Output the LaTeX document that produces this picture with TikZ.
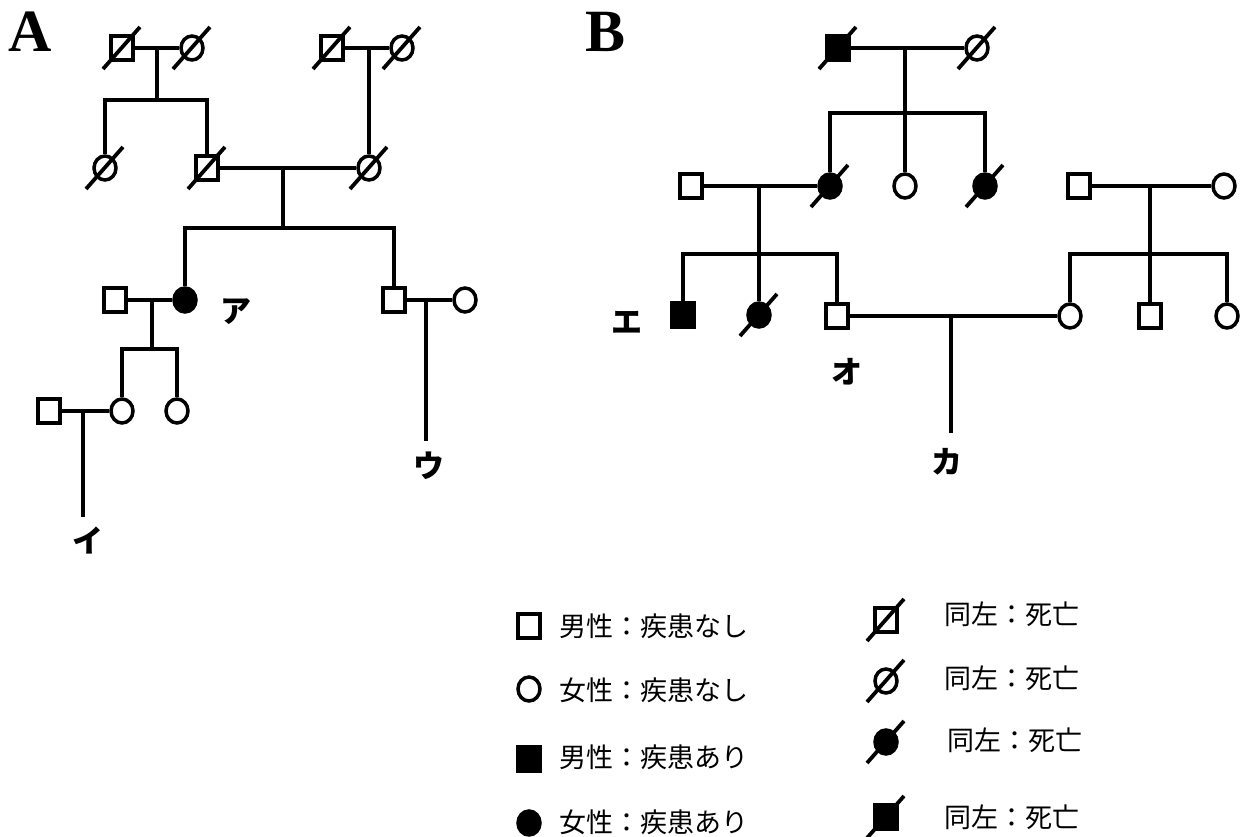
\documentclass[tikz,border=0pt]{standalone}
\usepackage{fontspec}
\setmainfont{Liberation Serif}
\newfontfamily\jp{Noto Sans CJK JP}
\usetikzlibrary{shapes.geometric}
\newcommand\deadmark[1]{\draw[slash] ([shift={(-19,21)}]#1.center) -- ([shift={(18,-21)}]#1.center);}
\begin{document}
\begin{tikzpicture}[x=1pt,y=-1pt,
  ln/.style={line width=3.6pt},
  male/.style={rectangle,draw,line width=3.5pt,minimum width=22pt,minimum height=24pt,inner sep=0pt,fill=white},
  fem/.style={ellipse,draw,line width=3.5pt,minimum width=22pt,minimum height=24pt,inner sep=0pt,fill=white},
  aff/.style={fill=black},
  slash/.style={line width=3.8pt},
  kana/.style={font={\jp\bfseries\fontsize{31}{31}\selectfont}, inner sep=0pt},
  leg/.style={font={\jp\fontsize{27}{27}\selectfont}, anchor=west, inner sep=0pt},
  panel/.style={font={\bfseries\fontsize{60}{60}\selectfont}, inner sep=0pt, anchor=base west}
]
\fill[white] (0,0) rectangle (1248,837);
\useasboundingbox (0,0) rectangle (1248,837);

% ---------------- Panel A ----------------
\node[panel] (tA) at (8,52) {A};
\node[male] (a1) at (122,48) {};
\node[fem]  (a2) at (192,48) {};
\node[male] (a5) at (332,48) {};
\node[fem]  (a6) at (402,48) {};
\node[fem]  (a3) at (105,168) {};
\node[male] (a4) at (207,168) {};
\node[fem]  (a8) at (369,168) {};
\node[male] (a9) at (115,300) {};
\node[fem,aff] (a10) at (185,300) {};
\node[male] (a11) at (394,300) {};
\node[fem]  (a12) at (465,300) {};
\node[male] (a15) at (49,411) {};
\node[fem]  (a13) at (122,411) {};
\node[fem]  (a14) at (177,411) {};

\coordinate (cA1) at (157,48);  \coordinate (sA1) at (157,100);
\coordinate (cA2) at (369,48);
\coordinate (cA3) at (283,168); \coordinate (sA2) at (283,228);
\coordinate (cA4) at (152,300); \coordinate (sA3) at (152,349);
\coordinate (cA5) at (83,411);  \coordinate (eA1) at (83,517);
\coordinate (cA6) at (426,300); \coordinate (eA2) at (426,441);

\draw[ln] (a1) -- (a2);
\draw[ln] (cA1) -- (sA1);
\draw[ln] (a3) |- (sA1) -| (a4);
\draw[ln] (a5) -- (a6);
\draw[ln] (cA2) -- (a8);
\draw[ln] (a4) -- (a8);
\draw[ln] (cA3) -- (sA2);
\draw[ln] (a10) |- (sA2) -| (a11);
\draw[ln] (a9) -- (a10);
\draw[ln] (cA4) -- (sA3);
\draw[ln] (a13) |- (sA3) -| (a14);
\draw[ln] (a15) -- (a13);
\draw[ln] (cA5) -- (eA1);
\draw[ln] (a11) -- (a12);
\draw[ln] (cA6) -- (eA2);

\deadmark{a1}\deadmark{a2}\deadmark{a5}\deadmark{a6}
\deadmark{a3}\deadmark{a4}\deadmark{a8}

\node[kana] (kA) at (236,312) {ア};
\node[kana] (kI) at (88,541) {イ};
\node[kana] (kU) at (429,466) {ウ};

% ---------------- Panel B ----------------
\node[panel] (tB) at (585,52) {B};
\node[male,aff] (b1) at (838,48) {};
\node[fem]  (b2) at (977,48) {};
\node[fem,aff] (b3) at (830,186) {};
\node[fem]  (b4) at (905,186) {};
\node[fem,aff] (b5) at (985,186) {};
\node[male] (b6) at (691,186) {};
\node[male,aff] (b7) at (683,315) {};
\node[fem,aff] (b8) at (759,315) {};
\node[male] (b9) at (837,316) {};
\node[male] (b10) at (1079,186) {};
\node[fem]  (b11) at (1224,186) {};
\node[fem]  (b12) at (1070,316) {};
\node[male] (b13) at (1150,316) {};
\node[fem]  (b14) at (1227,316) {};

\coordinate (cB1) at (905,48);  \coordinate (sB1) at (905,113);
\coordinate (cB2) at (759,186); \coordinate (sB2) at (759,254);
\coordinate (cB3) at (1150,186); \coordinate (sB3) at (1150,254);
\coordinate (cB4) at (951,316); \coordinate (eB1) at (951,433);

\draw[ln] (b1) -- (b2);
\draw[ln] (cB1) -- (b4);
\draw[ln] (b3) |- (sB1) -| (b5);
\draw[ln] (b6) -- (b3);
\draw[ln] (cB2) -- (b8);
\draw[ln] (b7) |- (sB2) -| (b9);
\draw[ln] (b10) -- (b11);
\draw[ln] (cB3) -- (b13);
\draw[ln] (b12) |- (sB3) -| (b14);
\draw[ln] (b9) -- (b12);
\draw[ln] (cB4) -- (eB1);

\deadmark{b1}\deadmark{b2}\deadmark{b3}\deadmark{b5}\deadmark{b8}

\node[kana] (kE) at (627,322) {エ};
\node[kana] (kO) at (847,372) {オ};
\node[kana] (kK) at (947,462) {カ};

% ---------------- Legend ----------------
\node[male] (l1) at (529,626) {};
\node[fem]  (l2) at (529,689) {};
\node[male,aff] (l3) at (529,759) {};
\node[fem,aff]  (l4) at (529,823) {};
\node[leg] (t1) at (559,626) {男性：疾患なし};
\node[leg] (t2) at (559,690) {女性：疾患なし};
\node[leg] (t3) at (559,757) {男性：疾患あり};
\node[leg] (t4) at (559,822) {女性：疾患あり};

\node[male] (l5) at (886,620) {};
\node[fem]  (l6) at (886,681) {};
\node[fem,aff]  (l7) at (886,742) {};
\node[male,aff] (l8) at (886,817) {};
\deadmark{l5}\deadmark{l6}\deadmark{l7}\deadmark{l8}
\node[leg] (t5) at (944,614) {同左：死亡};
\node[leg] (t6) at (944,678) {同左：死亡};
\node[leg] (t7) at (947,740) {同左：死亡};
\node[leg] (t8) at (944,817) {同左：死亡};
\end{tikzpicture}
\end{document}
